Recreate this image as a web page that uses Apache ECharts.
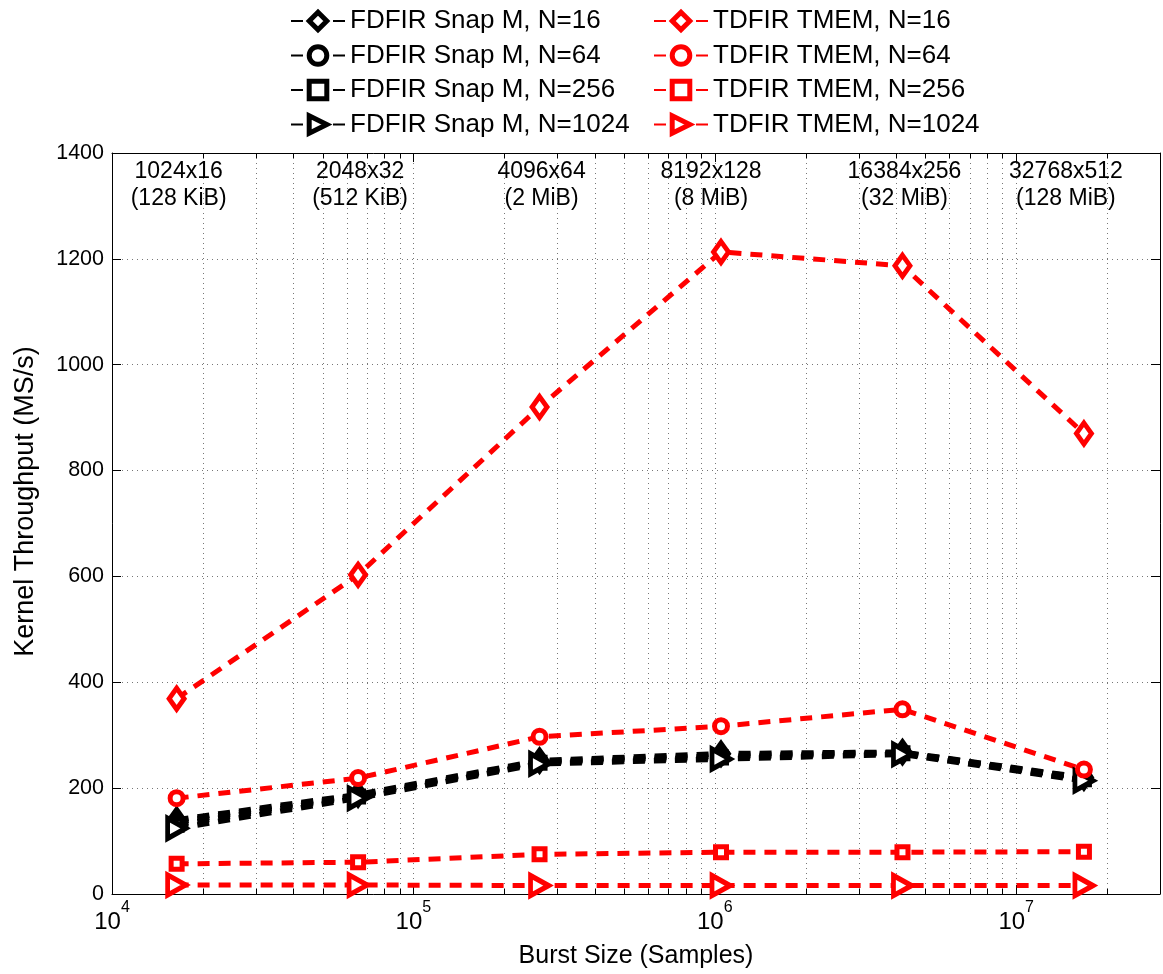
<!DOCTYPE html>
<html><head><meta charset="utf-8">
<script src="https://cdn.jsdelivr.net/npm/echarts@6/dist/echarts.min.js"></script>
<style>html,body{margin:0;padding:0;background:#fff}#c{width:1163px;height:974px}</style>
</head><body><div id="c"></div>
<script>
// ---------- data ----------
const burstSizes = [16384, 65536, 262144, 1048576, 4194304, 16777216];
const annotLine1 = ['1024x16', '2048x32', '4096x64', '8192x128', '16384x256', '32768x512'];
const annotLine2 = ['(128 KiB)', '(512 KiB)', '(2 MiB)', '(8 MiB)', '(32 MiB)', '(128 MiB)'];

const fdfirN16   = [140, 188, 252, 265, 268, 220];
const fdfirN64   = [136, 186, 250, 261, 267, 219];
const fdfirN256  = [131, 184, 248, 258, 266, 217];
const fdfirN1024 = [124, 181, 246, 255, 264, 214];

const tdfirN16   = [369, 603, 920, 1213, 1187, 870];
const tdfirN64   = [181, 219, 297, 317, 349, 235];
const tdfirN256  = [57, 60, 75, 79, 79, 80];
const tdfirN1024 = [17, 17, 16, 16, 16, 16];

const seriesNamesFD = ['FDFIR Snap M, N=16', 'FDFIR Snap M, N=64', 'FDFIR Snap M, N=256', 'FDFIR Snap M, N=1024'];
const seriesNamesTD = ['TDFIR TMEM, N=16', 'TDFIR TMEM, N=64', 'TDFIR TMEM, N=256', 'TDFIR TMEM, N=1024'];

const xMin = 1e4, xMax = 3e7;
const yMin = 0, yMax = 1400, yStep = 200;
const minorTickValues = [2e4,3e4,4e4,5e4,6e4,7e4,8e4,9e4,
                         2e5,3e5,4e5,5e5,6e5,7e5,8e5,9e5,
                         2e6,3e6,4e6,5e6,6e6,7e6,8e6,9e6,
                         2e7];
const annotValue = 1340;

// ---------- chart ----------
const FONT = '"Liberation Sans", Arial, Helvetica, sans-serif';
const RED = '#ff0000', BLACK = '#000000';
const chart = echarts.init(document.getElementById('c'), null, {renderer: 'canvas'});

function mkSeries(name, vals, color, symbol, size, rotate, width) {
  return {
    name: name, type: 'line', xAxisIndex: 0, yAxisIndex: 0,
    data: burstSizes.map((x, i) => [x, vals[i]]),
    symbol: symbol, symbolSize: size, symbolRotate: rotate || 0, showAllSymbol: true,
    lineStyle: {color: color, width: width, type: [12, 9]},
    itemStyle: {color: '#ffffff', borderColor: color, borderWidth: 5},
    emphasis: {disabled: true}, z: 3, animation: false
  };
}

const series = [
  mkSeries(seriesNamesFD[0], fdfirN16, BLACK, 'diamond', [15, 21], 0, 5.5),
  mkSeries(seriesNamesFD[1], fdfirN64, BLACK, 'circle', 13, 0, 5.5),
  mkSeries(seriesNamesFD[2], fdfirN256, BLACK, 'rect', 11, 0, 5.5),
  mkSeries(seriesNamesFD[3], fdfirN1024, BLACK, 'triangle', [20, 18], -90, 5.5),
  mkSeries(seriesNamesTD[0], tdfirN16, RED, 'diamond', [15, 21], 0, 5),
  mkSeries(seriesNamesTD[1], tdfirN64, RED, 'circle', 13, 0, 5),
  mkSeries(seriesNamesTD[2], tdfirN256, RED, 'rect', 11, 0, 5),
  mkSeries(seriesNamesTD[3], tdfirN1024, RED, 'triangle', [20, 18], -90, 5),
  {
    type: 'custom', name: 'minorGrid', silent: true, z: 1, xAxisIndex: 0, yAxisIndex: 0,
    data: minorTickValues.map(v => [v, 0]),
    encode: {x: 0, y: 1},
    renderItem: function (params, api) {
      const x = Math.round(api.coord([api.value(0), 0])[0]) + 0.5;
      const cs = params.coordSys;
      const top = cs.y, bot = cs.y + cs.height;
      return {type: 'group', children: [
        {type: 'line', shape: {x1: x, y1: top, x2: x, y2: bot}, style: {stroke: '#777', lineWidth: 1, lineDash: [1, 4]}},
        {type: 'line', shape: {x1: x, y1: bot, x2: x, y2: bot - 5}, style: {stroke: '#000', lineWidth: 1}},
        {type: 'line', shape: {x1: x, y1: top, x2: x, y2: top + 5}, style: {stroke: '#000', lineWidth: 1}}
      ]};
    },
    animation: false
  },
  {
    type: 'custom', name: 'annot', silent: true, z: 5, xAxisIndex: 0, yAxisIndex: 0,
    data: burstSizes.map(x => [x, annotValue]),
    encode: {x: 0, y: 1},
    renderItem: function (params, api) {
      const i = params.dataIndex;
      const p = api.coord([api.value(0), api.value(1)]);
      const shift = i === burstSizes.length - 1 ? -18 : (i === 3 ? -10 : 2);
      return {
        type: 'text', x: p[0] + shift, y: p[1],
        style: {
          text: annotLine1[i] + '\n' + annotLine2[i],
          fill: '#000', font: '23px ' + FONT, lineHeight: 27,
          align: 'center', verticalAlign: 'middle'
        }
      };
    },
    animation: false
  }
];

const legendCommon = {
  orient: 'vertical', top: 3, itemGap: 8.5, itemWidth: 54, itemHeight: 22, selectedMode: false,
  itemStyle: {borderWidth: 5},
  textStyle: {fontFamily: FONT, fontSize: 26, color: '#000'}
};

const option = {
  animation: false,
  backgroundColor: '#ffffff',
  grid: {left: 112, right: 3, top: 153, bottom: 78, containLabel: false},
  legend: [
    Object.assign({data: seriesNamesFD, left: 285}, legendCommon),
    Object.assign({data: seriesNamesTD, left: 648}, legendCommon)
  ],
  xAxis: [
    {
      type: 'log', logBase: 10, min: xMin, max: xMax, position: 'bottom',
      axisLine: {onZero: false, lineStyle: {color: '#000', width: 1}},
      axisTick: {inside: true, length: 9, lineStyle: {color: '#000'}},
      axisLabel: {
        margin: 6, color: '#000',
        formatter: function (v) {
          const e = Math.round(Math.log10(v));
          return Math.abs(v - Math.pow(10, e)) < 1e-6 * v ? '{b|10}{s|' + e + '}' : '';
        },
        rich: {
          b: {fontFamily: FONT, fontSize: 24, lineHeight: 34, verticalAlign: 'bottom', color: '#000'},
          s: {fontFamily: FONT, fontSize: 16, lineHeight: 18, verticalAlign: 'top', color: '#000'}
        }
      },
      splitLine: {show: true, lineStyle: {type: [1, 4], color: '#777', width: 1}},
      name: 'Burst Size (Samples)', nameLocation: 'middle', nameGap: 50,
      nameTextStyle: {fontFamily: FONT, fontSize: 25, color: '#000'}
    },
    {
      type: 'log', logBase: 10, min: xMin, max: xMax, position: 'top',
      axisLine: {onZero: false, lineStyle: {color: '#000', width: 1}},
      axisTick: {inside: true, length: 9, lineStyle: {color: '#000'}},
      axisLabel: {show: false}, splitLine: {show: false}
    }
  ],
  yAxis: [
    {
      type: 'value', min: yMin, max: yMax, interval: yStep, position: 'left',
      axisLine: {show: true, onZero: false, lineStyle: {color: '#000', width: 1}},
      axisTick: {show: true, inside: true, length: 9, lineStyle: {color: '#000'}},
      axisLabel: {fontFamily: FONT, fontSize: 21.5, color: '#000', margin: 8, formatter: v => String(v)},
      splitLine: {show: true, lineStyle: {type: [1, 4], color: '#777', width: 1}},
      name: 'Kernel Throughput (MS/s)', nameLocation: 'middle', nameGap: 73,
      nameTextStyle: {fontFamily: FONT, fontSize: 27, color: '#000', padding: [0, 0, 0, 44]}
    },
    {
      type: 'value', min: yMin, max: yMax, interval: yStep, position: 'right',
      axisLine: {show: true, onZero: false, lineStyle: {color: '#000', width: 1}},
      axisTick: {show: true, inside: true, length: 9, lineStyle: {color: '#000'}},
      axisLabel: {show: false}, splitLine: {show: false}
    }
  ],
  series: series
};
chart.setOption(option);
</script>
</body></html>
